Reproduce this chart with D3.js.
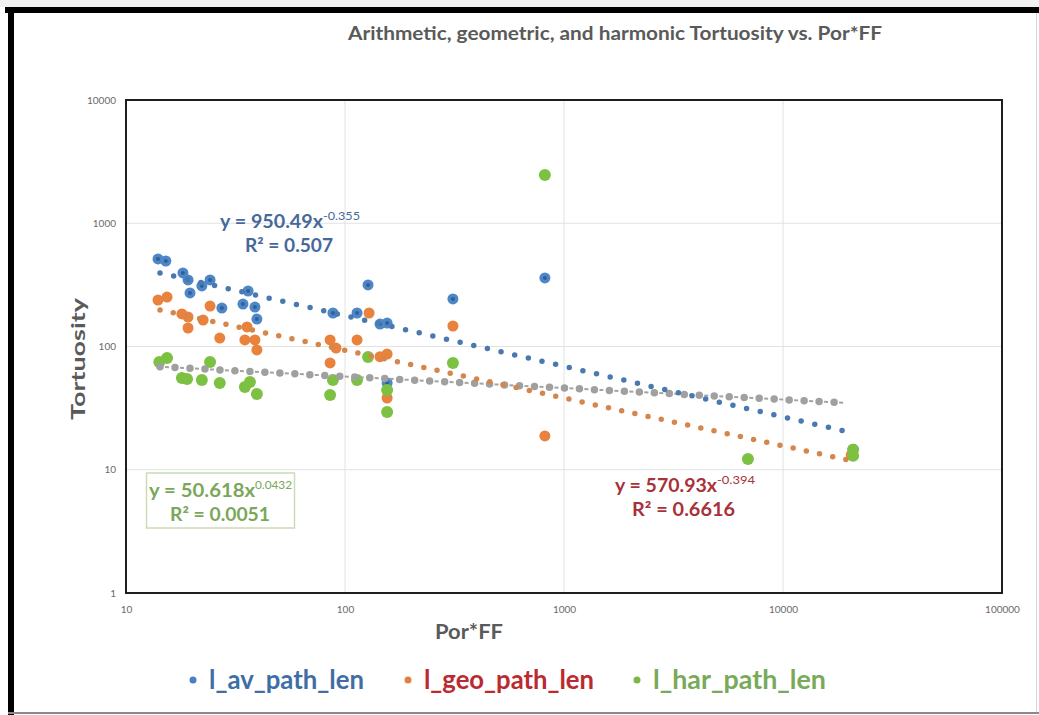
<!DOCTYPE html>
<html>
<head>
<meta charset="utf-8">
<script src="https://cdn.jsdelivr.net/npm/d3@7"></script>
<style>
  html, body { margin: 0; padding: 0; background: #fff; }
  svg { display: block; font-family: Lato, "Open Sans", sans-serif; }
</style>
</head>
<body>
<svg id="chart" width="1039" height="715"></svg>
<script>
// values (x = Por*FF, y = tortuosity)
var avX  = [14.0, 15.2, 18.2, 19.2, 19.6, 22.2, 24.2, 27.4, 34.2, 36.1, 38.8, 39.6,
            88.1, 113.5, 127.4, 144.5, 155.7, 155.7, 311, 818, 20900];
var avY  = [513, 494, 395, 347, 272, 310, 347, 205, 221, 282, 209, 167,
            187, 187, 315.6, 152, 155, 50.6, 243, 359.7, 14.7];

var geoX = [14.0, 15.4, 18.0, 19.2, 19.2, 22.5, 24.2, 26.8, 35.7, 34.9, 38.8, 39.6,
            85.5, 91, 85.5, 113.5, 128.8, 144.5, 155.7, 155.7, 311, 818, 20500];
var geoY = [238, 252, 183.6, 173.5, 141.3, 164, 213, 117, 144, 113, 113, 93.7,
            113, 97.2, 73.5, 113, 187, 82.7, 86.9, 38.2, 146.7, 18.8, 13.2];

var harX = [14.2, 15.4, 18.0, 19.0, 22.2, 24.2, 26.8, 34.9, 36.8, 39.6,
            85.5, 88.1, 113.5, 127.4, 155.7, 155.7, 311, 818, 6918, 20900, 20900];
var harY = [74.8, 80.7, 55.5, 54.5, 53.5, 74.8, 50.6, 46.9, 51.5, 41.2,
            40.4, 53.5, 53.5, 82.2, 44.4, 29.4, 73.5, 2462, 12.2, 14.5, 13.0];

// power trend lines, end points as drawn
var trendX    = [14.3, 19800];
var avTrend   = [395, 20.3];
var geoTrend  = [198, 12.0];
var harTrend  = [68.5, 34.8];

var xTicks = [10, 100, 1000, 10000, 100000];
var yTicks = [1, 10, 100, 1000, 10000];

var seriesNames = ["l_av_path_len", "l_geo_path_len", "l_har_path_len"];

var svg = d3.select("#chart");

var x = d3.scaleLog().domain([10, 100000]).range([126, 1002]);
var y = d3.scaleLog().domain([1, 10000]).range([593, 100]);

function fit(sel, w) {
  sel.attr("textLength", w).attr("lengthAdjust", "spacingAndGlyphs");
  return sel;
}

// outer frame of the screenshot
svg.append("rect").attr("x", 0).attr("y", 0).attr("width", 1039).attr("height", 7).attr("fill", "#f1f1f1");
svg.append("line").attr("x1", 5).attr("x2", 1039).attr("y1", 10).attr("y2", 10)
  .attr("stroke", "#000").attr("stroke-width", 6);
svg.append("line").attr("x1", 11).attr("x2", 11).attr("y1", 7).attr("y2", 715)
  .attr("stroke", "#000").attr("stroke-width", 6);
svg.append("line").attr("x1", 8).attr("x2", 1039).attr("y1", 713).attr("y2", 713)
  .attr("stroke", "#8a8a8a").attr("stroke-width", 2);
svg.append("line").attr("x1", 1036.5).attr("x2", 1036.5).attr("y1", 13).attr("y2", 712)
  .attr("stroke", "#d6d6d6").attr("stroke-width", 1);

// title
fit(svg.append("text").attr("x", 348).attr("y", 40)
  .attr("font-size", 18).attr("font-weight", 700).attr("fill", "#5a5a5a")
  .text("Arithmetic, geometric, and harmonic Tortuosity vs.  Por*FF"), 534);

// grid
var grid = svg.append("g");
grid.selectAll(".gx").data(xTicks.slice(1, -1)).enter().append("line")
  .attr("x1", function(d) { return x(d); }).attr("x2", function(d) { return x(d); })
  .attr("y1", y(10000)).attr("y2", y(1))
  .attr("stroke", "#e2e2e2").attr("stroke-width", 1);
grid.selectAll(".gy").data(yTicks.slice(1, -1)).enter().append("line")
  .attr("x1", x(10)).attr("x2", x(100000))
  .attr("y1", function(d) { return y(d); }).attr("y2", function(d) { return y(d); })
  .attr("stroke", "#e2e2e2").attr("stroke-width", 1);

// axes (labels only, like excel)
var xAxis = svg.append("g").attr("transform", "translate(0," + 609 + ")")
  .call(d3.axisBottom(x).tickValues(xTicks).tickFormat(d3.format("d")).tickSize(0).tickPadding(0));
xAxis.select(".domain").remove();
xAxis.selectAll("text").attr("font-size", 10).attr("fill", "#6a6a6a").attr("dy", "0.35em")
  .attr("font-family", "Lato, sans-serif");

var yAxis = svg.append("g").attr("transform", "translate(116,0)")
  .call(d3.axisLeft(y).tickValues(yTicks).tickFormat(d3.format("d")).tickSize(0).tickPadding(0));
yAxis.select(".domain").remove();
yAxis.selectAll("text").attr("font-size", 10).attr("fill", "#6a6a6a")
  .attr("font-family", "Lato, sans-serif");

// axis titles
fit(svg.append("text").attr("transform", "translate(85,359) rotate(-90)")
  .attr("text-anchor", "middle").attr("font-size", 19).attr("font-weight", 700).attr("fill", "#5a5a5a")
  .text("Tortuosity"), 122);
fit(svg.append("text").attr("x", 435).attr("y", 639)
  .attr("font-size", 20).attr("font-weight", 700).attr("fill", "#5a5a5a")
  .text("Por*FF"), 68);

// data points
var plot = svg.append("g");
function drawPoints(xs, ys, fill, core, r) {
  var pts = xs.map(function(v, i) { return [v, ys[i]]; });
  var g = plot.append("g");
  g.selectAll("circle.pt").data(pts).enter().append("circle")
    .attr("class", "pt")
    .attr("cx", function(d) { return x(d[0]); })
    .attr("cy", function(d) { return y(d[1]); })
    .attr("r", r).attr("fill", fill);
  if (core) {
    g.selectAll("circle.core").data(pts).enter().append("circle")
      .attr("class", "core")
      .attr("cx", function(d) { return x(d[0]); })
      .attr("cy", function(d) { return y(d[1]); })
      .attr("r", 2).attr("fill", core).attr("opacity", 0.55);
  }
}
drawPoints(avX, avY, "#4d87c7", "#1d3f6e", 5.5);
drawPoints(geoX, geoY, "#e8823c", null, 5.5);
drawPoints(harX, harY, "#7dc143", null, 6);

// trend lines
var line = d3.line()
  .x(function(d) { return x(d[0]); })
  .y(function(d) { return y(d[1]); });
function trend(ys) { return trendX.map(function(v, i) { return [v, ys[i]]; }); }

plot.append("path").attr("d", line(trend(harTrend)))
  .attr("fill", "none").attr("stroke", "#a3a3a3").attr("stroke-width", 2)
  .attr("stroke-dasharray", "4 11").attr("stroke-dashoffset", -5);
plot.append("path").attr("d", line(trend(harTrend)))
  .attr("fill", "none").attr("stroke", "#a0a0a0").attr("stroke-width", 7.5)
  .attr("stroke-linecap", "round").attr("stroke-dasharray", "0 15");
plot.append("path").attr("d", line(trend(avTrend)))
  .attr("fill", "none").attr("stroke", "#4a78b0").attr("stroke-width", 5.5)
  .attr("stroke-linecap", "round").attr("stroke-dasharray", "0 14");
plot.append("path").attr("d", line(trend(geoTrend)))
  .attr("fill", "none").attr("stroke", "#d6864b").attr("stroke-width", 5.5)
  .attr("stroke-linecap", "round").attr("stroke-dasharray", "0 13.5");

// plot border
svg.append("rect").attr("x", x(10)).attr("y", y(10000))
  .attr("width", x(100000) - x(10)).attr("height", y(1) - y(10000))
  .attr("fill", "none").attr("stroke", "#1e1e1e").attr("stroke-width", 2);

// trend equations
function equation(g, x0, base, coef, xSup, sup, r2x, r2, r2w, color, w1, w2) {
  fit(g.append("text").attr("x", x0).attr("y", base).attr("font-size", 18).attr("font-weight", 700)
    .attr("fill", color).text("y = " + coef + "x"), w1);
  fit(g.append("text").attr("x", xSup).attr("y", base - 8).attr("font-size", 11)
    .attr("fill", color).text(sup), w2);
  fit(g.append("text").attr("x", r2x).attr("y", base + 24).attr("font-size", 18).attr("font-weight", 700)
    .attr("fill", color).text("R² = " + r2), r2w);
}
var ann = svg.append("g");
equation(ann, 220, 228, "950.49", 323, "-0.355", 245, "0.507", 88, "#46699a", 103, 37);
ann.append("rect").attr("x", 146.5).attr("y", 473).attr("width", 148).attr("height", 55)
  .attr("fill", "#fff").attr("stroke", "#c9dcb4").attr("stroke-width", 1.5);
equation(ann, 149, 497, "50.618", 255, "0.0432", 170, "0.0051", 100, "#7aa75a", 106, 37);
equation(ann, 615, 492, "570.93", 717, "-0.394", 632, "0.6616", 103, "#a8313a", 102, 38);

// legend
var legendX = [193, 408, 637];
var legendW = [155, 170, 173];
var legendDot = ["#4a7fc0", "#e0823e", "#78b843"];
var legendText = ["#3f6ea6", "#bb2a31", "#79aa59"];
var lg = svg.append("g");
seriesNames.forEach(function(name, i) {
  lg.append("circle").attr("cx", legendX[i]).attr("cy", 680).attr("r", 3.5).attr("fill", legendDot[i]);
  fit(lg.append("text").attr("x", legendX[i] + 16).attr("y", 689)
    .attr("font-size", 26).attr("font-weight", 700).attr("fill", legendText[i])
    .text(name), legendW[i]);
});
</script>
</body>
</html>
